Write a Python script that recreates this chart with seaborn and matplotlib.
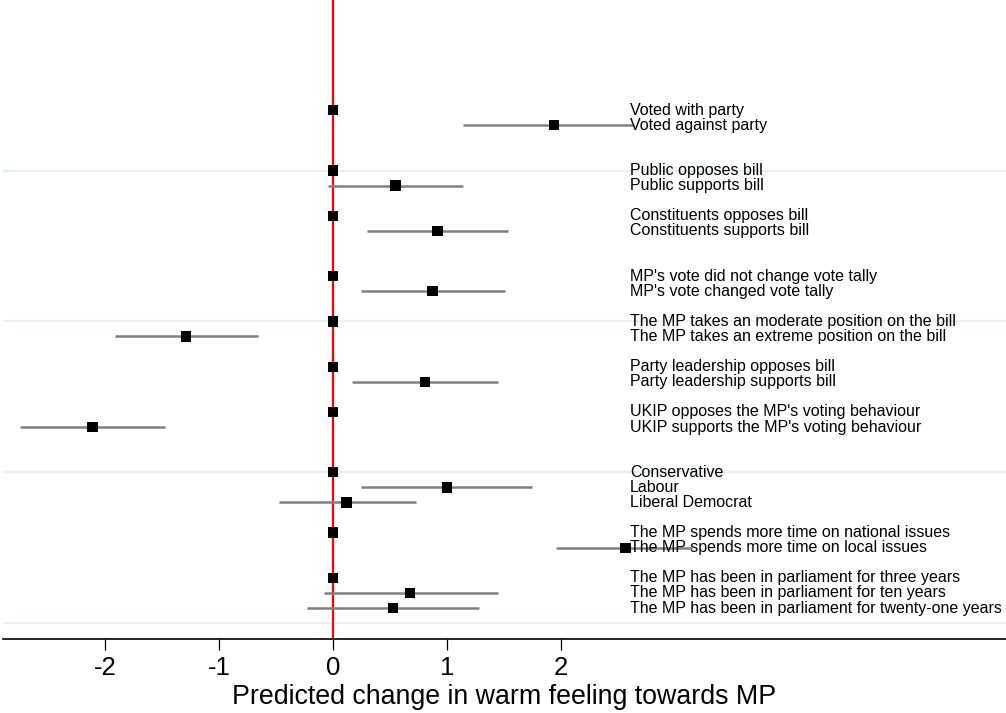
import numpy as np
import pandas as pd
import matplotlib
matplotlib.use("Agg")
import matplotlib.pyplot as plt
import seaborn as sns

# ---------------------------------------------------------------------------
# Data
# ---------------------------------------------------------------------------
labels = [
    "Voted with party", "Voted against party",
    "Public opposes bill", "Public supports bill",
    "Constituents opposes bill", "Constituents supports bill",
    "MP's vote did not change vote tally", "MP's vote changed vote tally",
    "The MP takes an moderate position on the bill",
    "The MP takes an extreme position on the bill",
    "Party leadership opposes bill", "Party leadership supports bill",
    "UKIP opposes the MP's voting behaviour",
    "UKIP supports the MP's voting behaviour",
    "Conservative", "Labour", "Liberal Democrat",
    "The MP spends more time on national issues",
    "The MP spends more time on local issues",
    "The MP has been in parliament for three years",
    "The MP has been in parliament for ten years",
    "The MP has been in parliament for twenty-one years",
]
group_id = [0, 0, 1, 1, 2, 2, 3, 3, 4, 4, 5, 5, 6, 6, 7, 7, 7, 8, 8, 9, 9, 9]
estimate = [0, 1.94, 0, 0.55, 0, 0.92, 0, 0.875, 0, -1.29, 0, 0.81,
            0, -2.11, 0, 1.00, 0.12, 0, 2.57, 0, 0.68, 0.53]
ci_low = [np.nan, 1.14, np.nan, -0.04, np.nan, 0.30, np.nan, 0.25, np.nan, -1.91,
          np.nan, 0.17, np.nan, -2.75, np.nan, 0.25, -0.47, np.nan, 1.96,
          np.nan, -0.08, -0.23]
ci_high = [np.nan, 2.64, np.nan, 1.14, np.nan, 1.54, np.nan, 1.51, np.nan, -0.66,
           np.nan, 1.45, np.nan, -1.47, np.nan, 1.75, 0.73, np.nan, 3.15,
           np.nan, 1.45, 1.28]
xticks = [-2, -1, 0, 1, 2]

# layout: empty rows left after each group (top to bottom)
group_gap = [2, 1, 2, 1, 1, 1, 2, 1, 1, 0]

# ---------------------------------------------------------------------------
# Build row positions (top row highest, bottom row at 1)
# ---------------------------------------------------------------------------
df = pd.DataFrame({
    "label": labels, "group": group_id, "est": estimate,
    "lo": ci_low, "hi": ci_high,
})
n_rows = len(df)
pos = []
y = n_rows + sum(group_gap)
for i, g in enumerate(group_id):
    pos.append(y)
    if i + 1 < n_rows and group_id[i + 1] != g:
        y -= 1 + group_gap[g]
    else:
        y -= 1
df["pos"] = pos

# ---------------------------------------------------------------------------
# Plot
# ---------------------------------------------------------------------------
sns.set_theme(style="white")
plt.rcParams["font.family"] = ["Liberation Sans", "DejaVu Sans"]

fig = plt.figure(figsize=(10.06, 7.13), dpi=100)
ax = fig.add_axes([0.003, (713 - 639) / 713, 0.997, 639 / 713])

# light horizontal gridlines
for gy in [0, 10, 20, 30]:
    ax.axhline(gy, color="#e8f0f3", lw=1.6, zorder=0)

# zero reference line
ax.axvline(0, color="#ff0000", lw=1.6, zorder=1)

# confidence intervals
ci = df.dropna(subset=["lo"])
ax.hlines(ci["pos"], ci["lo"], ci["hi"], color="#808080", lw=1.8, zorder=2)

# point estimates
sns.scatterplot(data=df, x="est", y="pos", marker="s", color="black",
                s=55, edgecolor="none", zorder=3, ax=ax, legend=False)

# row labels on the right
for _, r in df.iterrows():
    ax.text(2.61, r["pos"], r["label"], ha="left", va="center",
            fontsize=11.5, color="black", zorder=4)

ax.set_xlim(-2.895, 5.91)
ax.set_ylim(-1.05, 41.3)
ax.set_yticks([])
ax.set_xticks(xticks)
ax.set_xticklabels([str(t) for t in xticks])
ax.tick_params(axis="x", direction="out", length=8, width=0.9, pad=4,
               labelsize=18.5, colors="black", bottom=True)
ax.set_xlabel("Predicted change in warm feeling towards MP", fontsize=19.3,
              labelpad=3, color="black")
ax.set_ylabel("")
sns.despine(ax=ax, left=True, right=True, top=True)
ax.spines["bottom"].set_color("black")
ax.spines["bottom"].set_linewidth(1.2)

fig.savefig("out.png", dpi=100)
